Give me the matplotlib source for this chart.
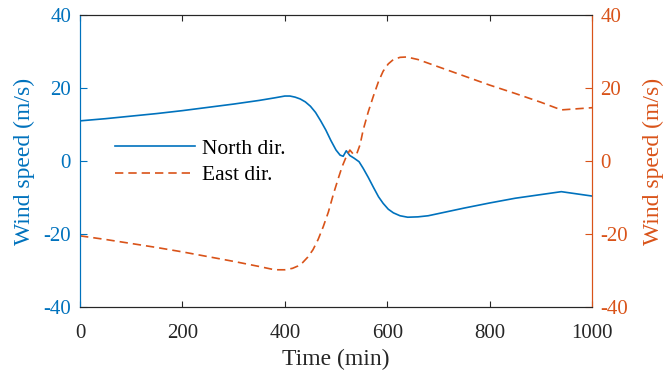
import numpy as np
import matplotlib.pyplot as plt

plt.rcParams.update({
    "font.family": ["Liberation Serif", "DejaVu Serif"],
    "font.size": 15,
    "axes.unicode_minus": False,
    "axes.linewidth": 0.8,
})

BLUE = "#0072BD"
ORANGE = "#D95319"
DARK = "#262626"

# ---------------- data ----------------

t_north = [0, 50, 100, 150, 200, 250, 300, 350, 380, 400, 410, 420, 430, 440,
           450, 460, 470, 480, 490, 500, 508, 514, 520, 527, 535, 545, 553,
           563, 573, 583, 592, 602, 612, 625, 640, 660, 680, 700, 750, 800,
           850, 900, 940, 970, 1000]
v_north = [11.0, 11.6, 12.3, 13.0, 13.8, 14.7, 15.6, 16.6, 17.3, 17.8, 17.8,
           17.5, 17.0, 16.2, 15.0, 13.3, 11.0, 8.5, 5.6, 3.0, 1.6, 1.3, 2.8,
           1.5, 0.8, -0.2, -2.0, -4.5, -7.2, -9.8, -11.6, -13.2, -14.2, -15.0,
           -15.4, -15.3, -15.0, -14.4, -12.9, -11.5, -10.2, -9.2, -8.4, -9.0,
           -9.6]

t_east = [0, 50, 100, 150, 200, 250, 300, 350, 380, 400, 415, 425, 435, 445,
          455, 465, 475, 485, 495, 505, 512, 520, 527, 533, 540, 547, 553,
          563, 573, 583, 592, 602, 612, 625, 638, 660, 700, 750, 800, 850,
          900, 940, 970, 1000]
v_east = [-20.5, -21.5, -22.6, -23.7, -24.9, -26.2, -27.5, -28.9, -29.8,
          -29.8, -29.4, -28.8, -27.8, -26.3, -24.3, -21.5, -18.0, -14.0, -9.0,
          -4.5, -1.5, 1.2, 3.0, 2.0, 1.8, 4.5, 8.5, 13.5, 17.8, 21.8, 24.6,
          26.6, 27.8, 28.4, 28.5, 27.8, 25.8, 23.3, 20.8, 18.5, 16.1, 14.0,
          14.3, 14.6]

x_ticks = [0, 200, 400, 600, 800, 1000]
y_ticks = [-40, -20, 0, 20, 40]

# ---------------- plot ----------------

fig = plt.figure(figsize=(6.67, 3.75), dpi=100)
ax = fig.add_axes([0.12, 0.1813, 0.7676, 0.7787])
ax2 = ax.twinx()

h1, = ax.plot(t_north, v_north, color=BLUE, lw=1.2, label="North dir.")
h2, = ax2.plot(t_east, v_east, color=ORANGE, lw=1.2, dashes=(5, 3),
               label="East dir.")

for a in (ax, ax2):
    a.set_xlim(0, 1000)
    a.set_ylim(-40, 40)
    a.set_yticks(y_ticks)

ax.set_xticks(x_ticks)
ax.tick_params(axis="x", direction="in", length=4, width=0.8, colors=DARK,
               top=True, labelsize=15, pad=12.5)
ax.tick_params(axis="y", direction="in", length=5, width=0.8, colors=BLUE,
               labelsize=15, pad=6.5)
ax2.tick_params(axis="y", direction="in", length=5, width=0.8, colors=ORANGE,
                labelsize=15, pad=6)

for a in (ax, ax2):
    a.spines["top"].set_color(DARK)
    a.spines["bottom"].set_color(DARK)
    a.spines["left"].set_color(BLUE)
    a.spines["right"].set_color(ORANGE)

ax.set_xlabel("Time (min)", fontsize=17, color=DARK, labelpad=4)
ax.set_ylabel("Wind speed (m/s)", fontsize=17, color=BLUE, labelpad=6)
ax2.set_ylabel("Wind speed (m/s)", fontsize=17, color=ORANGE, labelpad=10.5)

ax2.legend(handles=[h1, h2], loc="upper left", bbox_to_anchor=(0.068, 0.576),
           frameon=False, borderpad=0, borderaxespad=0, handlelength=3.7,
           handletextpad=0.35, labelspacing=0.3, fontsize=15.5)

fig.savefig("out.png", dpi=100)
